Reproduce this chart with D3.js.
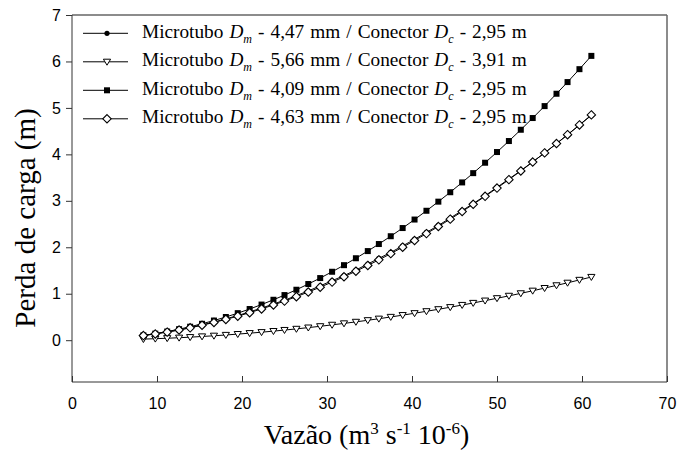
<!DOCTYPE html>
<html><head><meta charset="utf-8">
<script src="https://cdn.jsdelivr.net/npm/d3@7"></script>
<style>
body{margin:0;background:#fff}svg{display:block}
.serif{font-family:"Liberation Serif","Times New Roman",Times,"DejaVu Serif",serif}
.sans{font-family:"Liberation Sans",Arial,Helvetica,sans-serif}
</style>
</head><body>
<svg id="chart" width="677" height="453"></svg>
<script>
const vazao = [8.4,9.8,11.2,12.6,13.9,15.3,16.7,18.1,19.5,20.9,22.3,23.7,25.0,26.4,27.8,29.2,30.6,32.0,33.4,34.8,36.1,37.5,38.9,40.3,41.7,43.1,44.5,45.9,47.2,48.6,50.0,51.4,52.8,54.2,55.6,57.0,58.3,59.7,61.1];
const s447 = [0.10,0.14,0.18,0.22,0.27,0.33,0.39,0.46,0.53,0.61,0.69,0.78,0.86,0.96,1.06,1.17,1.28,1.39,1.51,1.64,1.76,1.89,2.03,2.17,2.32,2.47,2.63,2.79,2.94,3.11,3.29,3.47,3.65,3.84,4.03,4.23,4.42,4.63,4.84];
const s566 = [0.023,0.032,0.042,0.053,0.065,0.080,0.095,0.112,0.131,0.151,0.172,0.195,0.218,0.243,0.271,0.299,0.330,0.361,0.394,0.429,0.462,0.500,0.539,0.580,0.622,0.665,0.710,0.757,0.801,0.851,0.902,0.954,1.008,1.064,1.121,1.180,1.235,1.297,1.36];
const s409 = [0.103,0.141,0.186,0.237,0.290,0.353,0.423,0.499,0.582,0.671,0.767,0.870,0.971,1.086,1.209,1.337,1.473,1.615,1.764,1.918,2.070,2.238,2.414,2.597,2.786,2.982,3.185,3.396,3.596,3.820,4.050,4.287,4.530,4.782,5.039,5.305,5.556,5.834,6.12];
const s463 = [0.099,0.134,0.174,0.220,0.266,0.322,0.382,0.447,0.517,0.592,0.673,0.758,0.842,0.937,1.036,1.141,1.251,1.365,1.485,1.609,1.729,1.863,2.002,2.145,2.294,2.447,2.606,2.769,2.925,3.097,3.274,3.456,3.643,3.835,4.032,4.233,4.424,4.634,4.85];
const seriesNames = [
  {dm:"4,47", dc:"2,95", marker:"dot", values:s447},
  {dm:"5,66", dc:"3,91", marker:"tri", values:s566},
  {dm:"4,09", dc:"2,95", marker:"square", values:s409},
  {dm:"4,63", dc:"2,95", marker:"diamond", values:s463}
];
const xTicks = [0,10,20,30,40,50,60,70];
const yTicks = [0,1,2,3,4,5,6,7];

const svg = d3.select("#chart");
const L=72, R=667, T=15, B=382;
const x = d3.scaleLinear().domain([0,70]).range([L,R]);
const y = d3.scaleLinear().domain([-0.9,7]).range([B,T]);

// frame
svg.append("line").attr("x1",L).attr("x2",R).attr("y1",T).attr("y2",T).attr("stroke","#666").attr("stroke-width",1.5);
svg.append("line").attr("x1",R).attr("x2",R).attr("y1",T).attr("y2",B).attr("stroke","#666").attr("stroke-width",1.5);

// axes
const xAxis = svg.append("g").attr("transform",`translate(0,${B})`)
  .call(d3.axisBottom(x).tickValues(xTicks).tickSizeInner(-6).tickSizeOuter(0).tickPadding(16));
const yAxis = svg.append("g").attr("transform",`translate(${L},0)`)
  .call(d3.axisLeft(y).tickValues(yTicks).tickSize(6).tickSizeOuter(0).tickPadding(5));
[xAxis,yAxis].forEach(a=>{
  a.attr("font-family",null).attr("font-size",null).attr("class","sans");
  a.selectAll(".domain").attr("stroke","#333");
  a.selectAll(".tick line").attr("stroke","#333");
  a.selectAll("text").style("font-size","16px").attr("fill","#000");
});
yAxis.select(".domain").attr("d",`M0,${T}V${B}`);
xAxis.select(".domain").attr("d",`M${L},0H${R}`);

// markers
function drawMarker(g, type, cx, cy){
  if(type==="dot") g.append("circle").attr("cx",cx).attr("cy",cy).attr("r",2.6).attr("fill","#000");
  else if(type==="tri") g.append("path").attr("d",`M${cx-3.6},${cy-2.6}L${cx+3.6},${cy-2.6}L${cx},${cy+3.4}Z`).attr("fill","#fff").attr("stroke","#000").attr("stroke-width",1);
  else if(type==="square") g.append("rect").attr("x",cx-3).attr("y",cy-3).attr("width",6).attr("height",6).attr("fill","#000");
  else if(type==="diamond") g.append("path").attr("d",`M${cx},${cy-4.2}L${cx+4.2},${cy}L${cx},${cy+4.2}L${cx-4.2},${cy}Z`).attr("fill","#fff").attr("stroke","#000").attr("stroke-width",1.1);
}
const line = d3.line().x(d=>x(d[0])).y(d=>y(d[1]));
seriesNames.forEach(s=>{
  const pts = vazao.map((v,i)=>[v,s.values[i]]);
  const g = svg.append("g");
  g.append("path").attr("d",line(pts)).attr("fill","none").attr("stroke","#000").attr("stroke-width",1);
  pts.forEach(p=>drawMarker(g,s.marker,x(p[0]),y(p[1])));
});

// legend
const lg = svg.append("g");
seriesNames.forEach((s,i)=>{
  const cy = 33.3 + i*28.5;
  lg.append("line").attr("x1",83).attr("x2",128).attr("y1",cy).attr("y2",cy).attr("stroke","#000").attr("stroke-width",1);
  drawMarker(lg,s.marker,107,cy);
  const t = lg.append("text").attr("class","serif").attr("x",142).attr("y",cy+4.5)
    .style("font-size","19.3px").style("word-spacing","1.2px").attr("fill","#000");
  t.append("tspan").text("Microtubo ");
  t.append("tspan").style("font-style","italic").text("D");
  t.append("tspan").style("font-style","italic").style("font-size","12px").attr("dy",5).text("m");
  t.append("tspan").attr("dy",-5).text(` - ${s.dm} mm / Conector `);
  t.append("tspan").style("font-style","italic").text("D");
  t.append("tspan").style("font-style","italic").style("font-size","12px").attr("dy",5).text("c");
  t.append("tspan").attr("dy",-5).text(` - ${s.dc} m`);
});

// axis titles
const xt = svg.append("text").attr("class","serif").attr("x",(L+R)/2 - 3).attr("y",444).attr("text-anchor","middle")
  .style("font-size","28px").attr("fill","#000");
xt.append("tspan").text("Vazão (m");
xt.append("tspan").style("font-size","17px").attr("dy",-10).text("3");
xt.append("tspan").attr("dy",10).text(" s");
xt.append("tspan").style("font-size","17px").attr("dy",-10).text("-1");
xt.append("tspan").attr("dy",10).text(" 10");
xt.append("tspan").style("font-size","17px").attr("dy",-10).text("-6");
xt.append("tspan").attr("dy",10).text(")");

svg.append("text").attr("class","serif").attr("transform",`translate(35,218) rotate(-90)`).attr("text-anchor","middle")
  .style("font-size","29px").attr("fill","#000")
  .text("Perda de carga (m)");
</script>
</body></html>
